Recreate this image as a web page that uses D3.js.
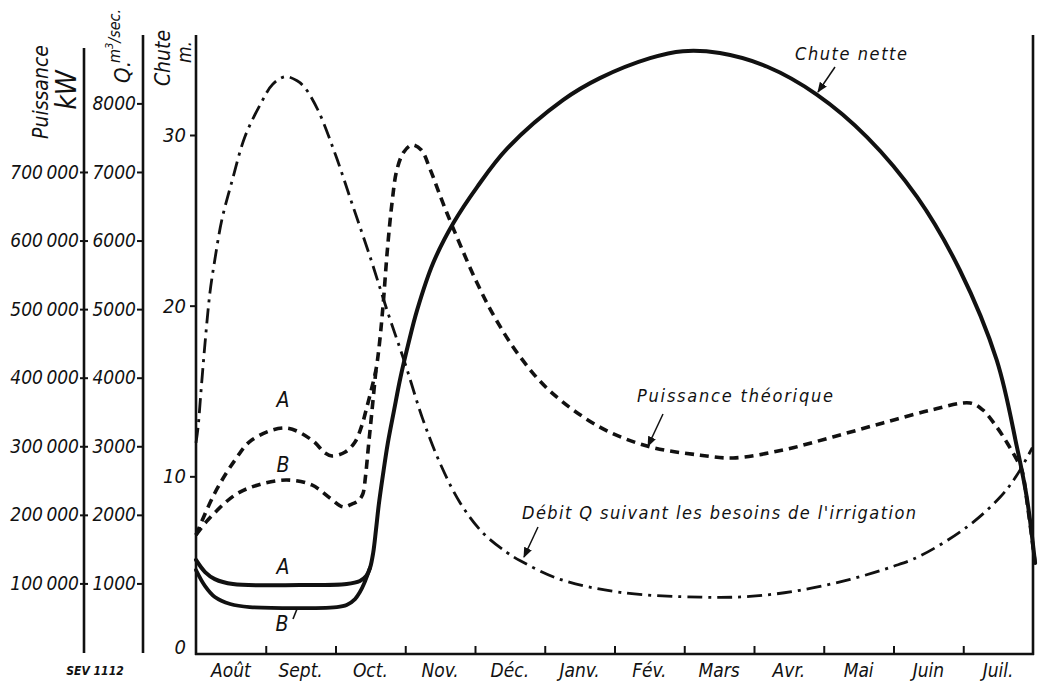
<!doctype html>
<html lang="fr">
<head>
<meta charset="utf-8">
<title>Chute nette, débit et puissance</title>
<script src="https://cdn.jsdelivr.net/npm/d3@7"></script>
<style>
  body { margin: 0; background: #fff; }
  text { font-family: "DejaVu Sans Condensed", "DejaVu Sans", sans-serif; font-style: italic; fill: #111; }
</style>
</head>
<body>
<svg id="chart" width="1039" height="684"></svg>
<script>
// month labels (Aug -> Jul)
const months = ["Août", "Sept.", "Oct.", "Nov.", "Déc.", "Janv.", "Fév.", "Mars", "Avr.", "Mai", "Juin", "Juil."];

const powerTicks = [100000, 200000, 300000, 400000, 500000, 600000, 700000];
const powerLabels = ["100\u2009000", "200\u2009000", "300\u2009000", "400\u2009000", "500\u2009000", "600\u2009000", "700\u2009000"];
const qTicks = [1000, 2000, 3000, 4000, 5000, 6000, 7000, 8000];
const chuteTicks = [0, 10, 20, 30];

// Chute nette (m) - case A, continues as the main curve (time in months from 1 Aug)
const chuteAT = [0, 0.13, 0.27, 0.53, 1.49, 2.16, 2.35, 2.44, 2.495, 2.54, 2.58, 2.62, 2.68, 2.75, 2.84, 2.93, 3.04, 3.17, 3.4, 3.69, 4.03, 4.46, 5.26, 5.79, 6.51, 6.98, 7.51, 8.19, 8.9, 9.62, 10.34, 10.95, 11.48, 11.77, 11.91, 12.03];
const chuteAV = [5.1, 4.39, 3.98, 3.69, 3.63, 3.69, 3.87, 4.16, 4.63, 5.51, 6.85, 8.32, 10.08, 11.95, 13.88, 15.76, 17.69, 19.74, 22.5, 24.84, 26.95, 29.2, 32.04, 33.33, 34.5, 34.91, 34.8, 34.0, 32.37, 29.88, 26.36, 22.09, 16.81, 11.71, 8.79, 4.92];
// Chute - case B (Aug-Oct)
const chuteBT = [0, 0.13, 0.27, 0.49, 0.77, 2.02, 2.16, 2.28, 2.35, 2.42, 2.495];
const chuteBV = [4.51, 3.57, 2.93, 2.52, 2.34, 2.34, 2.46, 2.81, 3.22, 3.81, 4.63];

// Débit Q (m3/sec)
const debitT = [0, 0.03, 0.07, 0.13, 0.2, 0.27, 0.37, 0.52, 0.7, 0.92, 1.1, 1.28, 1.45, 1.56, 1.75, 2.0, 2.25, 2.5, 2.75, 3.0, 3.25, 3.5, 3.79, 4.11, 4.46, 4.65, 5.22, 6.08, 7.23, 7.94, 8.66, 9.38, 10.0, 10.38, 11.05, 11.53, 11.77, 11.99];
const debitV = [3050, 3280, 3780, 4510, 5240, 5720, 6300, 6880, 7510, 7980, 8280, 8390, 8330, 8230, 7900, 7250, 6500, 5750, 4950, 4200, 3400, 2750, 2170, 1740, 1450, 1330, 1060, 870, 800, 810, 900, 1060, 1250, 1400, 1820, 2260, 2580, 2980];

// Puissance théorique (kW) - case A
const powerAT = [0, 0.27, 0.56, 0.8, 1.28, 1.66, 1.85, 1.95, 2.14, 2.28, 2.38, 2.45, 2.52, 2.58, 2.62, 2.68, 2.74, 2.81, 2.88, 2.98, 3.1, 3.23, 3.36, 3.54, 3.74, 4.03, 4.3, 4.65, 5.08, 5.79, 6.48, 7.23, 7.7, 8.42, 9.13, 9.85, 10.55, 11.1, 11.28, 11.48, 11.63, 11.77, 11.84, 11.93, 12.03];
const powerAV = [170600, 231900, 280000, 309200, 326700, 309200, 290200, 285800, 291700, 306300, 331100, 357300, 385000, 411300, 440400, 503100, 581900, 654800, 703000, 729200, 739400, 732100, 703000, 654800, 605200, 538000, 485000, 430000, 380000, 328000, 300000, 287000, 283000, 294600, 313600, 334000, 353000, 363100, 353000, 328100, 304800, 280000, 265400, 207100, 129800];
// Puissance théorique - case B (Aug-Oct)
const powerBT = [0, 0.17, 0.56, 0.89, 1.3, 1.66, 1.92, 2.11, 2.24, 2.32, 2.39, 2.43, 2.47, 2.51, 2.58];
const powerBV = [170600, 192500, 229000, 243600, 250800, 243600, 224600, 211500, 216000, 220000, 230000, 256000, 297500, 338300, 411300];

const svg = d3.select("#chart");
const ink = "#111";

const x = d3.scaleLinear().domain([0, 12]).range([196, 1033]);
const yChute = d3.scaleLinear().domain([0, 30]).range([647, 135]);
const yQ = d3.scaleLinear().domain([0, 8000]).range([652, 103.4]);
const yP = d3.scaleLinear().domain([0, 800000]).range([652, 103.4]);

const zip = (t, v) => t.map((d, i) => [d, v[i]]);

// --- frame and axes ---
function vline(px, y1, y2, w) {
    svg.append("line").attr("x1", px).attr("x2", px).attr("y1", y1).attr("y2", y2)
        .attr("stroke", ink).attr("stroke-width", w);
}
vline(84, 48, 653, 2.6);
vline(143, 35, 653, 2.6);
vline(196, 35, 655, 2.6);
vline(1033, 35, 655, 2.6);
svg.append("line").attr("x1", 195).attr("x2", 1034).attr("y1", 654).attr("y2", 654)
    .attr("stroke", ink).attr("stroke-width", 2.6);

// power axis
const gP = svg.append("g").attr("transform", "translate(84,0)")
    .call(d3.axisLeft(yP).tickValues(powerTicks).tickSize(5).tickFormat((d, i) => powerLabels[i]));
gP.select(".domain").remove();
gP.selectAll(".tick line").attr("x2", 4).attr("x1", -4).attr("stroke", ink).attr("stroke-width", 2);
gP.selectAll(".tick text").attr("x", -5).attr("font-size", 19).attr("font-family", null).attr("fill", null);

// Q axis
const gQ = svg.append("g").attr("transform", "translate(143,0)")
    .call(d3.axisLeft(yQ).tickValues(qTicks).tickSize(6).tickFormat(d3.format("d")));
gQ.select(".domain").remove();
gQ.selectAll(".tick line").attr("stroke", ink).attr("stroke-width", 2);
gQ.selectAll(".tick text").attr("x", -7).attr("font-size", 19).attr("font-family", null).attr("fill", null);

// Chute axis
const gC = svg.append("g").attr("transform", "translate(196,0)")
    .call(d3.axisLeft(yChute).tickValues(chuteTicks).tickSize(6).tickFormat(d3.format("d")));
gC.select(".domain").remove();
gC.selectAll(".tick line").attr("stroke", ink).attr("stroke-width", 2)
    .filter(d => d === 0).remove();
gC.selectAll(".tick text").attr("x", -10).attr("font-size", 20).attr("font-family", null).attr("fill", null);

// month axis
const gM = svg.append("g").attr("transform", "translate(0,654)")
    .call(d3.axisTop(x).tickValues(d3.range(1, 12)).tickSize(8).tickFormat(""));
gM.select(".domain").remove();
gM.selectAll(".tick line").attr("stroke", ink).attr("stroke-width", 2);
svg.append("g").selectAll("text").data(months).enter().append("text")
    .attr("x", (d, i) => x(i + 0.5))
    .attr("y", 677)
    .attr("text-anchor", "middle")
    .attr("font-size", 19)
    .text(d => d);

// axis titles (rotated)
function vtext(px, py, str, size) {
    svg.append("text").attr("transform", "translate(" + px + "," + py + ") rotate(-90)")
        .attr("text-anchor", "middle").attr("font-size", size).text(str);
}
vtext(48, 92, "Puissance", 21);
vtext(76, 90, "kW", 28);
vtext(130, 72, "Q.", 22);
svg.append("text").attr("transform", "translate(120,36) rotate(-90)")
    .attr("text-anchor", "middle").attr("font-size", 16)
    .html('m<tspan dy="-7" font-size="11">3</tspan><tspan dy="7">/sec.</tspan>');
vtext(170, 58, "Chute", 21);
vtext(191, 52, "m.", 19);

svg.append("text").attr("x", 95).attr("y", 675).attr("text-anchor", "middle")
    .attr("font-size", 12).attr("font-weight", "bold").text("SEV 1112");

// --- curves ---
const line = d3.line().x(d => x(d[0])).curve(d3.curveCatmullRom.alpha(0.5));

function draw(data, yScale, width, dash) {
    svg.append("path")
        .datum(data)
        .attr("fill", "none")
        .attr("stroke", ink)
        .attr("stroke-width", width)
        .attr("stroke-linecap", dash ? "butt" : "round")
        .attr("stroke-dasharray", dash)
        .attr("d", line.y(d => yScale(d[1])));
}

draw(zip(debitT, debitV), yQ, 2.8, "15,6,3,6");
draw(zip(powerBT, powerBV), yP, 3.6, "9,6");
draw(zip(powerAT, powerAV), yP, 3.6, "9,6");
draw(zip(chuteBT, chuteBV), yChute, 3.8, null);
draw(zip(chuteAT, chuteAV), yChute, 4, null);

// --- labels A / B ---
function label(px, py, str, size) {
    svg.append("text").attr("x", px).attr("y", py).attr("text-anchor", "middle")
        .attr("font-size", size || 21).text(str);
}
label(283, 407, "A");
label(283, 472, "B");
label(283, 574, "A");
label(282, 631, "B");
svg.append("line").attr("x1", 293).attr("y1", 619).attr("x2", 297).attr("y2", 609)
    .attr("stroke", ink).attr("stroke-width", 1.6);

// --- annotations with arrows ---
svg.append("defs").append("marker")
    .attr("id", "arr").attr("viewBox", "0 0 10 10").attr("refX", 9).attr("refY", 5)
    .attr("markerWidth", 7).attr("markerHeight", 7).attr("orient", "auto")
    .append("path").attr("d", "M0,1 L10,5 L0,9 Z").attr("fill", ink);

function note(tx, ty, str, len, a) {
    svg.append("text").attr("x", tx).attr("y", ty).attr("font-size", 18)
        .attr("textLength", len).attr("lengthAdjust", "spacing").text(str);
    svg.append("line").attr("x1", a[0]).attr("y1", a[1]).attr("x2", a[2]).attr("y2", a[3])
        .attr("stroke", ink).attr("stroke-width", 1.5).attr("marker-end", "url(#arr)");
}
note(795, 60, "Chute nette", 112, [835, 67, 818, 92]);
note(637, 402, "Puissance théorique", 196, [663, 414, 648, 446]);
note(522, 519, "Débit Q suivant les besoins de l'irrigation", 394, [538, 527, 524, 557]);
</script>
</body>
</html>
